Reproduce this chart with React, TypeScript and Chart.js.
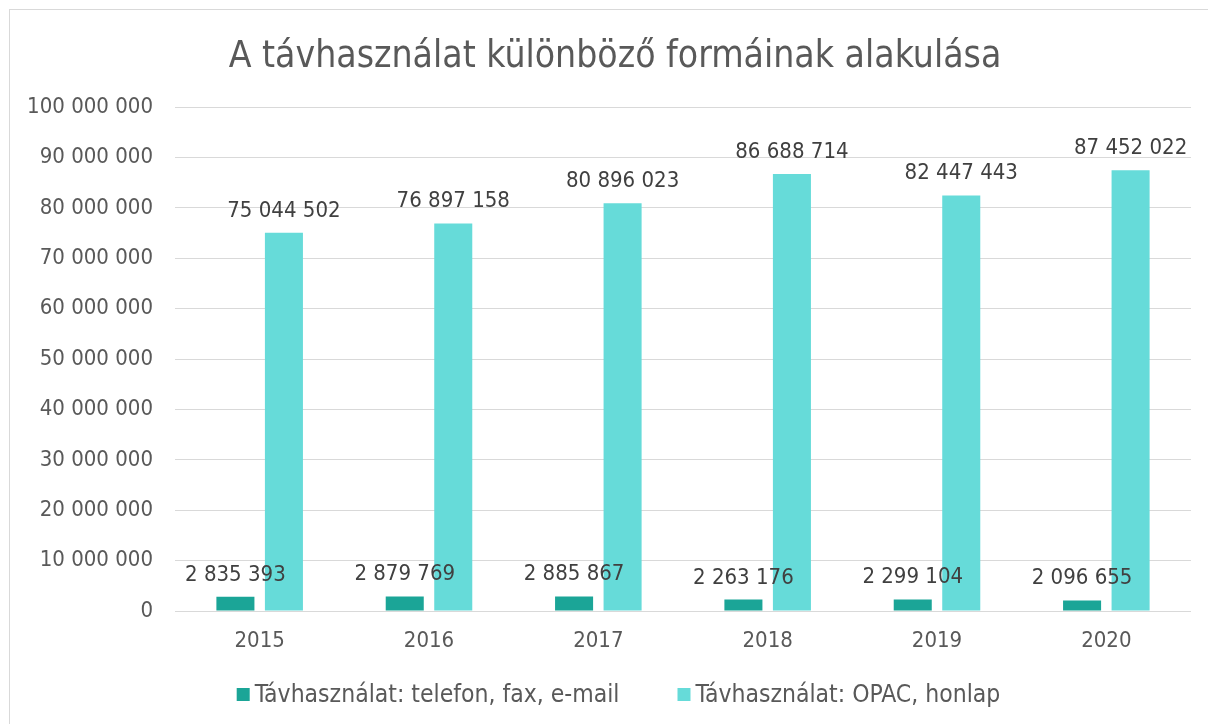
import React, { useEffect, useRef } from "react";
import { Chart, registerables } from "chart.js";

Chart.register(...registerables);

const titleText = "A távhasználat különböző formáinak alakulása";
const categories = ["2015", "2016", "2017", "2018", "2019", "2020"];
const seriesNames = ["Távhasználat: telefon, fax, e-mail", "Távhasználat: OPAC, honlap"];
const phoneFaxEmail = [2835393, 2879769, 2885867, 2263176, 2299104, 2096655];
const opacHonlap = [75044502, 76897158, 80896023, 86688714, 82447443, 87452022];
const yMin = 0;
const yMax = 100000000;
const yStep = 10000000;

const FONT = '"DejaVu Sans Condensed", "DejaVu Sans", sans-serif';
const TEAL = "#1BA597";
const CYAN = "#66DBD9";

const fmt = (v: number) => Math.round(v).toString().replace(/\B(?=(\d{3})+(?!\d))/g, " ");

const valueLabels = {
  id: "valueLabels",
  afterDatasetsDraw(chart: any) {
    const ctx = chart.ctx;
    ctx.save();
    ctx.font = `22px ${FONT}`;
    ctx.fillStyle = "#404040";
    ctx.textAlign = "center";
    ctx.textBaseline = "alphabetic";
    chart.data.datasets.forEach((ds: any, i: number) => {
      const meta = chart.getDatasetMeta(i);
      meta.data.forEach((el: any, j: number) => {
        ctx.fillText(fmt(ds.data[j]), el.x, el.y - 16);
      });
    });
    ctx.restore();
  },
};

const titleAndLegend = {
  id: "titleAndLegend",
  afterDraw(chart: any) {
    const ctx = chart.ctx;
    ctx.save();
    // title
    ctx.font = `37px ${FONT}`;
    ctx.fillStyle = "#595959";
    ctx.textAlign = "center";
    ctx.textBaseline = "alphabetic";
    ctx.fillText(titleText, 615, 67);
    // legend
    ctx.font = `24.5px ${FONT}`;
    ctx.textAlign = "left";
    const box = 13;
    const boxGap = 5;
    const itemGap = 58;
    const items = chart.data.datasets.map((ds: any) => ({
      text: ds.label,
      color: ds.backgroundColor,
      w: ctx.measureText(ds.label).width,
    }));
    const total = items.reduce((s: number, it: any) => s + box + boxGap + it.w, 0) + itemGap * (items.length - 1);
    let x = 618.5 - total / 2;
    items.forEach((it: any) => {
      ctx.fillStyle = it.color;
      ctx.fillRect(x, 688, box, box);
      x += box + boxGap;
      ctx.fillStyle = "#595959";
      ctx.fillText(it.text, x, 702);
      x += it.w + itemGap;
    });
    ctx.restore();
  },
};

export default function App() {
  const ref = useRef<HTMLCanvasElement | null>(null);
  useEffect(() => {
    if (!ref.current) return;
    const chart = new Chart(ref.current, {
      type: "bar",
      data: {
        labels: categories,
        datasets: [
          { label: seriesNames[0], data: phoneFaxEmail, backgroundColor: TEAL },
          { label: seriesNames[1], data: opacHonlap, backgroundColor: CYAN },
        ],
      },
      options: {
        animation: false,
        responsive: false,
        maintainAspectRatio: false,
        layout: { padding: { left: 0, right: 17, top: 107, bottom: 52.6 } },
        datasets: {
          bar: { categoryPercentage: 0.573, barPercentage: 0.784 },
        } as any,
        scales: {
          x: {
            grid: { display: false, drawTicks: false },
            border: { display: false },
            ticks: { color: "#595959", font: { family: FONT, size: 22 }, padding: 17 },
          },
          y: {
            min: yMin,
            max: yMax,
            grid: { color: "#D9D9D9", lineWidth: 1, drawTicks: false },
            border: { display: false },
            ticks: {
              stepSize: yStep,
              color: "#595959",
              font: { family: FONT, size: 22 },
              padding: 22,
              callback: (v: any) => fmt(Number(v)),
            },
            afterFit: (s: any) => { s.width = 175; },
          },
        },
        plugins: {
          title: { display: false },
          legend: { display: false },
          tooltip: { enabled: false },
        },
      },
      plugins: [valueLabels, titleAndLegend],
    });
    return () => chart.destroy();
  }, []);

  return (
    <div style={{ position: "fixed", left: 0, top: 0, width: 1208, height: 724, overflow: "hidden", background: "#fff" }}>
      <div style={{ position: "absolute", left: 9, top: 9, width: 1300, height: 800, border: "1px solid #D9D9D9" }} />
      <canvas ref={ref} width={1208} height={724} style={{ position: "absolute", left: 0, top: 0, width: 1208, height: 724 }} />
    </div>
  );
}
